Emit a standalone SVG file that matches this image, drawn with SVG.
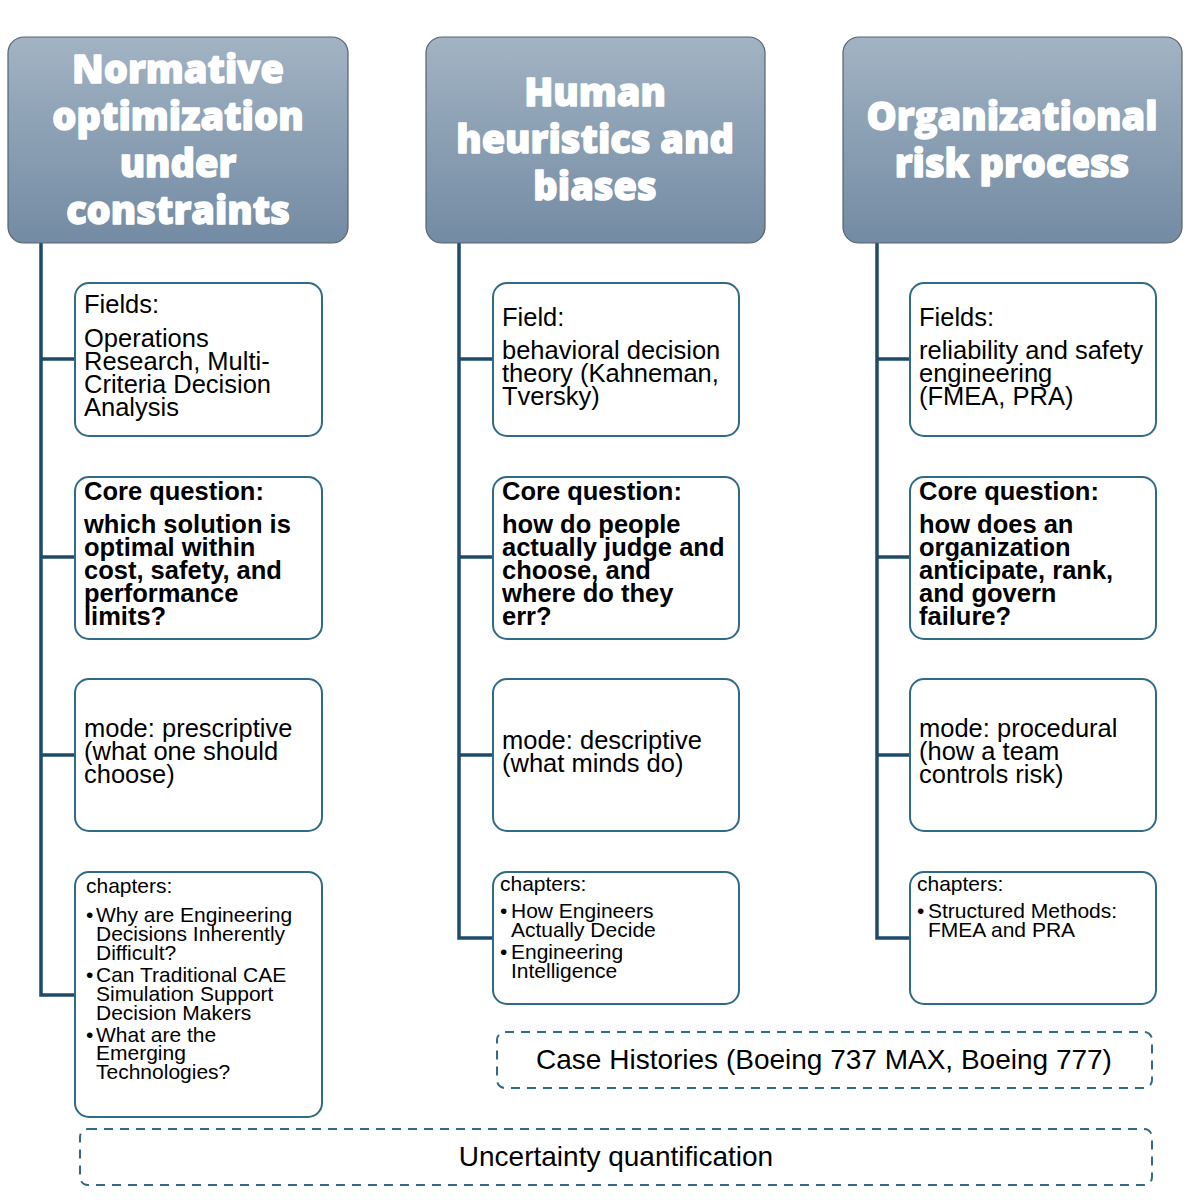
<svg xmlns="http://www.w3.org/2000/svg" width="1200" height="1200" viewBox="0 0 1200 1200">
<defs>
<linearGradient id="hg" x1="0" y1="0" x2="0" y2="1">
<stop offset="0" stop-color="#a2b3c3"/>
<stop offset="1" stop-color="#738ba3"/>
</linearGradient>
<style>
.hdr{fill:url(#hg);stroke:#56646f;stroke-width:1.2}
.ht{font-family:"Open Sans","DejaVu Sans",sans-serif;font-weight:800;font-size:38px;fill:#ffffff;stroke:#ffffff;stroke-width:1.3;stroke-linejoin:round;text-anchor:middle}
.box{fill:#ffffff;stroke:#2f6a86;stroke-width:2}
.dash{fill:#ffffff;stroke:#2f6a86;stroke-width:2;stroke-dasharray:9 7}
.t{font-family:"Liberation Sans",Arial,sans-serif;font-size:25.5px;fill:#000}
.b{font-weight:bold}
.s{font-family:"Liberation Sans",Arial,sans-serif;font-size:21px;fill:#000}
.big{font-family:"Liberation Sans",Arial,sans-serif;font-size:28px;fill:#000;text-anchor:middle}
.ln{fill:none;stroke:#1d4b69;stroke-width:3.5}
</style>
</defs>
<rect width="1200" height="1200" fill="#ffffff"/>

<g id="connectors">
<path class="ln" d="M41 243 V995 H75 M41 359 H75 M41 557 H75 M41 755 H75"/>
<path class="ln" d="M459 243 V938 H493 M459 359 H493 M459 557 H493 M459 755 H493"/>
<path class="ln" d="M877 243 V938 H910 M877 359 H910 M877 557 H910 M877 755 H910"/>
</g>

<g id="header1">
<rect class="hdr" x="8" y="37" width="340" height="206" rx="16"/>
<text class="ht" x="178" y="83">Normative</text>
<text class="ht" x="178" y="130">optimization</text>
<text class="ht" x="178" y="177">under</text>
<text class="ht" x="178" y="224">constraints</text>
</g>
<g id="header2">
<rect class="hdr" x="426" y="37" width="339" height="206" rx="16"/>
<text class="ht" x="595" y="106">Human</text>
<text class="ht" x="595" y="153">heuristics and</text>
<text class="ht" x="595" y="200">biases</text>
</g>
<g id="header3">
<rect class="hdr" x="843" y="37" width="339" height="206" rx="16"/>
<text class="ht" x="1012" y="130">Organizational</text>
<text class="ht" x="1012" y="177">risk process</text>
</g>

<g id="fields1">
<rect class="box" x="75" y="283" width="247" height="153" rx="14"/>
<text class="t" x="84" y="313">Fields:</text>
<text class="t" x="84" y="347">Operations</text>
<text class="t" x="84" y="370">Research, Multi-</text>
<text class="t" x="84" y="393">Criteria Decision</text>
<text class="t" x="84" y="416">Analysis</text>
</g>
<g id="core1">
<rect class="box" x="75" y="477" width="247" height="162" rx="14"/>
<text class="t b" x="84" y="500">Core question:</text>
<text class="t b" x="84" y="533">which solution is</text>
<text class="t b" x="84" y="556">optimal within</text>
<text class="t b" x="84" y="579">cost, safety, and</text>
<text class="t b" x="84" y="602">performance</text>
<text class="t b" x="84" y="625">limits?</text>
</g>
<g id="mode1">
<rect class="box" x="75" y="679" width="247" height="152" rx="14"/>
<text class="t" x="84" y="737">mode: prescriptive</text>
<text class="t" x="84" y="760">(what one should</text>
<text class="t" x="84" y="783">choose)</text>
</g>
<g id="chapters1">
<rect class="box" x="75" y="872" width="247" height="245" rx="14"/>
<text class="s" x="86" y="893">chapters:</text>
<text class="s" x="86" y="922">•</text>
<text class="s" x="96" y="922">Why are Engineering</text>
<text class="s" x="96" y="941">Decisions Inherently</text>
<text class="s" x="96" y="960">Difficult?</text>
<text class="s" x="86" y="982">•</text>
<text class="s" x="96" y="982">Can Traditional CAE</text>
<text class="s" x="96" y="1001">Simulation Support</text>
<text class="s" x="96" y="1020">Decision Makers</text>
<text class="s" x="86" y="1042">•</text>
<text class="s" x="96" y="1042">What are the</text>
<text class="s" x="96" y="1060">Emerging</text>
<text class="s" x="96" y="1079">Technologies?</text>
</g>

<g id="fields2">
<rect class="box" x="493" y="283" width="246" height="153" rx="14"/>
<text class="t" x="502" y="326">Field:</text>
<text class="t" x="502" y="359">behavioral decision</text>
<text class="t" x="502" y="382">theory (Kahneman,</text>
<text class="t" x="502" y="405">Tversky)</text>
</g>
<g id="core2">
<rect class="box" x="493" y="477" width="246" height="162" rx="14"/>
<text class="t b" x="502" y="500">Core question:</text>
<text class="t b" x="502" y="533">how do people</text>
<text class="t b" x="502" y="556">actually judge and</text>
<text class="t b" x="502" y="579">choose, and</text>
<text class="t b" x="502" y="602">where do they</text>
<text class="t b" x="502" y="625">err?</text>
</g>
<g id="mode2">
<rect class="box" x="493" y="679" width="246" height="152" rx="14"/>
<text class="t" x="502" y="749">mode: descriptive</text>
<text class="t" x="502" y="772">(what minds do)</text>
</g>
<g id="chapters2">
<rect class="box" x="493" y="872" width="246" height="132" rx="14"/>
<text class="s" x="500" y="891">chapters:</text>
<text class="s" x="500" y="918">•</text>
<text class="s" x="511" y="918">How Engineers</text>
<text class="s" x="511" y="937">Actually Decide</text>
<text class="s" x="500" y="959">•</text>
<text class="s" x="511" y="959">Engineering</text>
<text class="s" x="511" y="978">Intelligence</text>
</g>

<g id="fields3">
<rect class="box" x="910" y="283" width="246" height="153" rx="14"/>
<text class="t" x="919" y="326">Fields:</text>
<text class="t" x="919" y="359">reliability and safety</text>
<text class="t" x="919" y="382">engineering</text>
<text class="t" x="919" y="405">(FMEA, PRA)</text>
</g>
<g id="core3">
<rect class="box" x="910" y="477" width="246" height="162" rx="14"/>
<text class="t b" x="919" y="500">Core question:</text>
<text class="t b" x="919" y="533">how does an</text>
<text class="t b" x="919" y="556">organization</text>
<text class="t b" x="919" y="579">anticipate, rank,</text>
<text class="t b" x="919" y="602">and govern</text>
<text class="t b" x="919" y="625">failure?</text>
</g>
<g id="mode3">
<rect class="box" x="910" y="679" width="246" height="152" rx="14"/>
<text class="t" x="919" y="737">mode: procedural</text>
<text class="t" x="919" y="760">(how a team</text>
<text class="t" x="919" y="783">controls risk)</text>
</g>
<g id="chapters3">
<rect class="box" x="910" y="872" width="246" height="132" rx="14"/>
<text class="s" x="917" y="891">chapters:</text>
<text class="s" x="917" y="918">•</text>
<text class="s" x="928" y="918">Structured Methods:</text>
<text class="s" x="928" y="937">FMEA and PRA</text>
</g>

<g id="case-histories">
<rect class="dash" x="497" y="1032" width="655" height="56" rx="8"/>
<text class="big" x="824" y="1069">Case Histories (Boeing 737 MAX, Boeing 777)</text>
</g>
<g id="uncertainty">
<rect class="dash" x="80" y="1129" width="1072" height="56" rx="8"/>
<text class="big" x="616" y="1166">Uncertainty quantification</text>
</g>
</svg>
